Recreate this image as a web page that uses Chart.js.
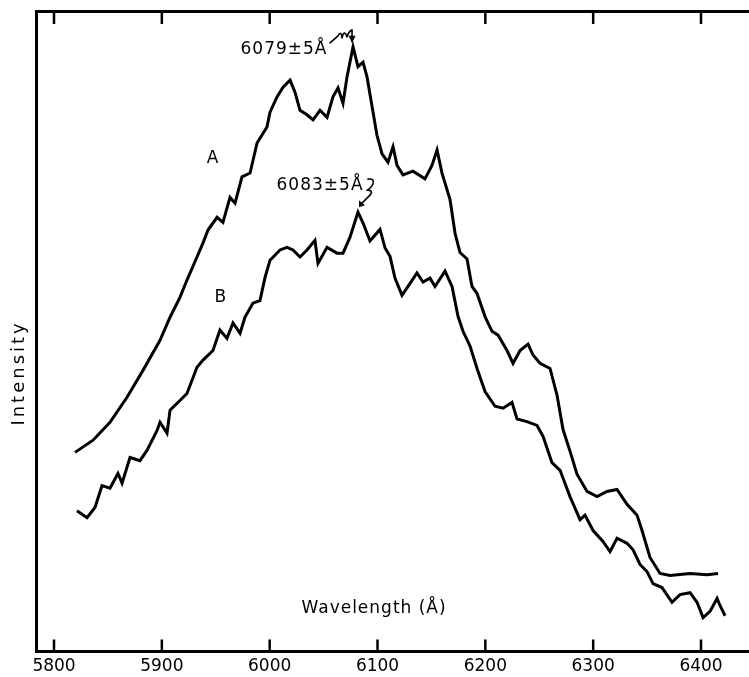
<!DOCTYPE html>
<html lang="en">
<head>
<meta charset="UTF-8">
<title>Intensity vs wavelength</title>
<style>
  html, body { margin: 0; padding: 0; background: #fff; overflow: hidden; }
  #wrap { width: 749px; height: 677px; }
</style>
</head>
<body>
<div id="wrap"><canvas id="spectrum" width="749" height="677"></canvas></div>

<script src="https://cdn.jsdelivr.net/npm/chart.js"></script>
<script>
// curve A (upper trace)
const waveA = [5819.5, 5836.2, 5851.9, 5867.7, 5882.5, 5898.3, 5907.6, 5916.8, 5923.3, 5932.6,
  5938.2, 5942.8, 5951.2, 5956.7, 5963.2, 5967.9, 5974.3, 5981.8, 5988.3, 5997.5,
  6000.3, 6006.8, 6012.4, 6018.9, 6023.5, 6028.1, 6034.6, 6040.2, 6046.7, 6053.2,
  6058.7, 6063.4, 6068.0, 6071.7, 6077.3, 6081.9, 6086.6, 6090.3, 6093.0, 6099.5,
  6104.2, 6109.7, 6114.4, 6118.1, 6123.6, 6132.9, 6144.0, 6150.5, 6155.2, 6159.8,
  6167.2, 6171.9, 6176.5, 6183.0, 6187.6, 6192.3, 6199.7, 6206.2, 6211.8, 6220.1,
  6225.7, 6232.2, 6239.6, 6244.2, 6250.7, 6260.0, 6266.5, 6272.0, 6278.5, 6285.0,
  6294.3, 6303.6, 6312.8, 6322.1, 6331.4, 6340.7, 6345.3, 6352.7, 6362.0, 6371.3,
  6389.8, 6405.6, 6415.8];
const intA = [31.1, 33.0, 35.8, 39.7, 43.9, 48.6, 52.2, 55.3, 58.0, 61.6,
  63.8, 65.8, 67.8, 67.0, 70.9, 70.0, 74.1, 74.7, 79.4, 81.9,
  84.2, 86.6, 88.1, 89.2, 87.3, 84.5, 83.8, 83.0, 84.5, 83.4,
  86.6, 88.0, 85.6, 89.7, 94.4, 91.3, 92.0, 89.7, 87.0, 80.6,
  77.7, 76.4, 78.8, 75.9, 74.4, 75.0, 73.8, 75.9, 78.3, 74.7,
  70.6, 65.3, 62.3, 61.3, 57.0, 55.9, 52.3, 50.0, 49.4, 47.0,
  45.0, 47.0, 48.0, 46.3, 45.0, 44.2, 40.0, 34.7, 31.3, 27.7,
  25.0, 24.2, 25.0, 25.3, 23.0, 21.3, 18.9, 14.7, 12.2, 11.9,
  12.2, 12.0, 12.2];

// curve B (lower trace)
const waveB = [5821.3, 5830.6, 5838.0, 5844.5, 5851.9, 5859.3, 5863.1, 5870.5, 5879.7, 5886.2,
  5895.5, 5898.3, 5904.8, 5907.6, 5916.8, 5923.3, 5932.6, 5938.2, 5947.4, 5953.9,
  5960.4, 5966.0, 5972.5, 5977.1, 5984.5, 5991.0, 5995.7, 6000.3, 6009.6, 6016.1,
  6021.6, 6028.1, 6034.6, 6042.0, 6044.8, 6053.2, 6062.4, 6068.0, 6074.5, 6081.9,
  6086.6, 6093.0, 6102.3, 6107.0, 6111.6, 6116.2, 6122.7, 6128.3, 6136.6, 6142.2,
  6148.7, 6153.3, 6162.6, 6169.1, 6174.7, 6179.3, 6185.8, 6192.3, 6199.7, 6209.0,
  6216.4, 6224.7, 6229.4, 6238.6, 6247.9, 6253.5, 6261.8, 6269.3, 6278.5, 6287.8,
  6292.4, 6299.9, 6309.1, 6315.6, 6322.1, 6331.4, 6337.0, 6343.4, 6349.9, 6355.5,
  6363.8, 6373.1, 6380.5, 6389.8, 6396.3, 6401.9, 6408.4, 6414.9, 6417.6, 6422.3];
const intB = [22.0, 20.9, 22.5, 25.9, 25.5, 27.8, 26.3, 30.3, 29.8, 31.4,
  34.5, 35.8, 34.1, 37.7, 39.2, 40.3, 44.4, 45.5, 47.0, 50.2,
  48.9, 51.3, 49.7, 52.2, 54.4, 54.8, 58.4, 61.1, 62.7, 63.1,
  62.7, 61.6, 62.7, 64.2, 60.6, 63.1, 62.2, 62.2, 64.7, 68.6,
  66.9, 64.1, 65.9, 63.0, 61.7, 58.3, 55.6, 57.0, 59.1, 57.7,
  58.3, 57.0, 59.4, 57.0, 52.3, 50.0, 47.7, 44.2, 40.6, 38.3,
  38.0, 38.9, 36.3, 35.9, 35.3, 33.6, 29.5, 28.3, 24.2, 20.6,
  21.3, 18.9, 17.2, 15.6, 17.7, 16.9, 15.9, 13.6, 12.5, 10.6,
  10.0, 7.7, 8.9, 9.2, 7.7, 5.3, 6.3, 8.3, 7.2, 5.6];

const xTicks = [5800, 5900, 6000, 6100, 6200, 6300, 6400];

// text written on the plot, placed in data units
const noteText = ['6079±5Å', '6083±5Å', 'A', 'B', 'Wavelength (Å)'];
const noteX = [6013.3, 6046.7, 5947.4, 5954.8, 6096.8];
const noteY = [93.9, 72.8, 77.0, 55.3, 6.7];
// the two marked peaks
const peakX = [6077.3, 6081.9];
const peakY = [94.4, 68.6];

const FONT = '"DejaVu Sans", "Liberation Sans", sans-serif';

const frameExtras = {
  id: 'frameExtras',
  afterDraw(chart) {
    const ctx = chart.ctx;
    const a = chart.chartArea;
    const x = chart.scales.x;
    const y = chart.scales.y;
    ctx.save();
    ctx.strokeStyle = '#000';
    ctx.fillStyle = '#000';

    // inward tick marks, top and bottom
    ctx.lineWidth = 2.5;
    xTicks.forEach(v => {
      const px = x.getPixelForValue(v);
      ctx.beginPath();
      ctx.moveTo(px, a.bottom);
      ctx.lineTo(px, a.bottom - 12);
      ctx.moveTo(px, a.top);
      ctx.lineTo(px, a.top + 13);
      ctx.stroke();
    });

    // labels on the plot
    ctx.font = '17px ' + FONT;
    ctx.letterSpacing = '1px';
    ctx.textAlign = 'center';
    ctx.textBaseline = 'middle';
    noteText.forEach((t, i) => {
      ctx.fillText(t, x.getPixelForValue(noteX[i]), y.getPixelForValue(noteY[i]));
    });

    // Intensity, rotated on the left
    ctx.save();
    ctx.translate(19, y.getPixelForValue(43.5));
    ctx.rotate(-Math.PI / 2);
    ctx.font = '18px ' + FONT;
    ctx.letterSpacing = '3px';
    ctx.fillText('Intensity', 0, 0);
    ctx.restore();

    // squiggly arrows to the peaks
    ctx.lineWidth = 1.6;
    ctx.lineJoin = 'round';
    ctx.lineCap = 'round';
    let p = { x: x.getPixelForValue(peakX[0]), y: y.getPixelForValue(peakY[0]) };
    ctx.beginPath();
    ctx.moveTo(p.x - 23, p.y - 4);
    ctx.lineTo(p.x - 15, p.y - 11);
    ctx.quadraticCurveTo(p.x - 12, p.y - 17, p.x - 11, p.y - 9);
    ctx.quadraticCurveTo(p.x - 9, p.y - 18, p.x - 6, p.y - 10);
    ctx.quadraticCurveTo(p.x - 4, p.y - 16, p.x - 1, p.y - 17);
    ctx.moveTo(p.x - 1, p.y - 17);
    ctx.lineTo(p.x - 1, p.y - 5);
    ctx.stroke();
    ctx.beginPath();
    ctx.moveTo(p.x - 1, p.y - 4);
    ctx.lineTo(p.x - 4.5, p.y - 11);
    ctx.lineTo(p.x + 2.5, p.y - 11);
    ctx.closePath();
    ctx.fill();

    p = { x: x.getPixelForValue(peakX[1]), y: y.getPixelForValue(peakY[1]) };
    ctx.beginPath();
    ctx.moveTo(p.x + 10, p.y - 33);
    ctx.quadraticCurveTo(p.x + 17, p.y - 34, p.x + 15, p.y - 28);
    ctx.quadraticCurveTo(p.x + 12, p.y - 23, p.x + 9, p.y - 22);
    ctx.quadraticCurveTo(p.x + 16, p.y - 22, p.x + 12, p.y - 17);
    ctx.lineTo(p.x + 4, p.y - 9);
    ctx.stroke();
    ctx.beginPath();
    ctx.moveTo(p.x + 1, p.y - 5);
    ctx.lineTo(p.x + 1, p.y - 12);
    ctx.lineTo(p.x + 7, p.y - 7);
    ctx.closePath();
    ctx.fill();

    ctx.restore();
  }
};

function toPoints(xs, ys) {
  return xs.map((v, i) => ({ x: v, y: ys[i] }));
}

const lineStyle = {
  borderColor: '#000',
  borderWidth: 3,
  pointRadius: 0,
  tension: 0,
  fill: false
};

new Chart(document.getElementById('spectrum'), {
  type: 'line',
  data: {
    datasets: [
      Object.assign({ label: 'A', data: toPoints(waveA, intA) }, lineStyle),
      Object.assign({ label: 'B', data: toPoints(waveB, intB) }, lineStyle)
    ]
  },
  options: {
    responsive: false,
    animation: false,
    layout: { padding: { left: 36, top: 11, right: 0, bottom: -5 } },
    plugins: { legend: { display: false }, tooltip: { enabled: false } },
    scales: {
      x: {
        type: 'linear',
        position: 'bottom',
        min: 5783.3,
        max: 6444.5,
        afterBuildTicks: s => { s.ticks = xTicks.map(v => ({ value: v })); },
        grid: { display: false, drawTicks: false },
        border: { display: true, color: '#000', width: 3 },
        ticks: {
          color: '#000', padding: 5, maxRotation: 0,
          font: { family: FONT, size: 17 },
          callback: v => String(v)
        }
      },
      x2: {
        type: 'linear',
        position: 'top',
        min: 5783.3,
        max: 6444.5,
        grid: { display: false, drawTicks: false },
        border: { display: true, color: '#000', width: 3 },
        ticks: { display: false }
      },
      y: {
        min: 0,
        max: 100,
        grid: { display: false, drawTicks: false },
        border: { display: true, color: '#000', width: 3 },
        ticks: { display: false }
      }
    }
  },
  plugins: [frameExtras]
});
</script>
</body>
</html>
